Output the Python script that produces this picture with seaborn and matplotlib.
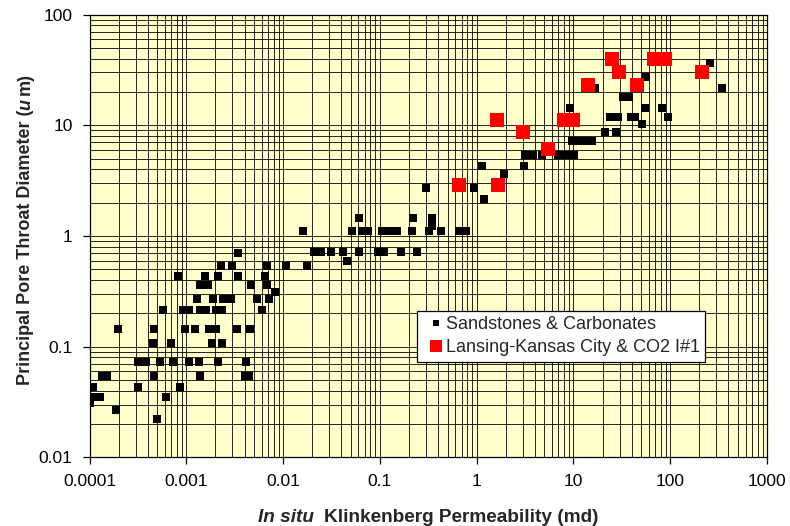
import matplotlib
matplotlib.use("Agg")
import matplotlib.pyplot as plt
import seaborn as sns
import pandas as pd
from matplotlib.ticker import FixedLocator, FixedFormatter, LogLocator, NullFormatter
from matplotlib.lines import Line2D
from matplotlib.transforms import IdentityTransform

# ---------------- data ----------------
series_names = ["Sandstones & Carbonates", "Lansing-Kansas City & CO2 I#1"]
series_colors = ["#000000", "#FF0000"]

# Sandstones & Carbonates: in situ Klinkenberg permeability (md)
sc_perm = [
    5.75e-4, 9.25e-4, 1.07e-3, 1.38e-3, 1.6e-3, 2.02e-3, 2.33e-3, 6.03e-3,
    1.98e-4, 4.65e-4, 9.7e-4, 1.23e-3, 1.71e-3, 2.02e-3, 3.33e-3, 4.54e-3,
    4.54e-4, 6.95e-4, 1.84e-3, 2.33e-3,
    3.18e-4, 3.84e-4, 5.36e-4, 7.29e-4, 1.07e-3, 1.35e-3, 2.12e-3, 4.12e-3,
    1.35e-4, 1.52e-4, 4.65e-4, 1.38e-3, 4.03e-3, 4.43e-3,
    1.0e-4, 1.09e-4, 3.18e-4, 8.61e-4,
    1.12e-4, 1.29e-4, 6.18e-4,
    1.0e-4, 1.88e-4, 4.99e-4,
    3.41e-3,
    2.28e-3, 2.96e-3, 6.79e-3, 1.07e-2, 1.75e-2,
    8.2e-4, 1.56e-3, 2.12e-3, 3.41e-3, 6.47e-3,
    1.38e-3, 1.67e-3, 4.65e-3, 6.79e-3,
    8.2e-3,
    1.29e-3, 1.88e-3, 2.39e-3, 2.89e-3, 5.36e-3, 7.12e-3,
    0.016, 0.0517, 0.0655, 0.0755, 0.105, 0.123, 0.149, 0.215, 0.325, 0.433, 0.652, 0.778,
    0.0207, 0.0249, 0.031, 0.0414, 0.0605, 0.0953, 0.1105, 0.164, 0.242,
    0.0456,
    0.0605, 0.219, 0.345,
    0.345,
    0.303, 0.931,
    1.18,
    1.145, 3.05,
    1.93,
    3.18, 3.78, 4.79, 7.0, 8.35, 10.2,
    9.63, 11.45, 13.6, 15.7,
    9.3, 55.2, 82.7,
    21.1, 27.7,
    50.7,
    23.7, 28.9, 39.0, 43.0, 94.0,
    32.5, 37.9,
    16.6, 341.0,
    55.9,
    256.6,
]
# Sandstones & Carbonates: principal pore throat diameter (um)
sc_diam = (
    [0.215] * 8 + [0.144] * 8 + [0.107] * 4 + [0.072] * 8 + [0.054] * 6
    + [0.043] * 4 + [0.035] * 3 + [0.031, 0.027, 0.022]
    + [0.70] + [0.536] * 5 + [0.435] * 5 + [0.361] * 4 + [0.312] + [0.268] * 6
    + [1.1] * 12 + [0.716] * 9 + [0.60] + [1.44] * 3 + [1.23] + [2.74] * 2 + [2.15]
    + [4.29] * 2 + [3.63] + [5.4] * 6 + [7.2] * 4 + [14.4] * 3 + [8.65] * 2
    + [10.3] + [12.0] * 5 + [18.1] * 2 + [21.6] * 2 + [27.2] + [36.3]
)

# Lansing-Kansas City & CO2 I#1
lkc_perm = [0.652, 1.645, 1.62, 2.98, 5.48, 8.02, 9.9, 14.3, 25.2, 29.6, 45.7, 67.9, 89.2, 213.6]
lkc_diam = [2.9, 2.9, 11.2, 8.7, 6.17, 11.2, 11.2, 23.1, 39.4, 30.1, 23.1, 39.4, 39.4, 30.1]

x_ticks = [1e-4, 1e-3, 1e-2, 0.1, 1, 10, 100, 1000]
x_tick_labels = ["0.0001", "0.001", "0.01", "0.1", "1", "10", "100", "1000"]
y_ticks = [0.01, 0.1, 1, 10, 100]
y_tick_labels = ["0.01", "0.1", "1", "10", "100"]

# ---------------- figure ----------------
sns.set_style("white")
plt.rcParams["font.family"] = ["Liberation Sans", "DejaVu Sans"]

W, H = 790, 526
fig = plt.figure(figsize=(W / 100, H / 100), dpi=100, facecolor="white")
left_px, right_px, top_px, bot_px = 89.5, 767.0, 14.6, 457.4
ax = fig.add_axes([left_px / W, (H - bot_px) / H, (right_px - left_px) / W, (bot_px - top_px) / H])
ax.set_facecolor("#FFFFCC")

df_sc = pd.DataFrame({"perm": sc_perm, "diam": sc_diam})
df_lkc = pd.DataFrame({"perm": lkc_perm, "diam": lkc_diam})

ax.set_xscale("log")
ax.set_yscale("log")
sns.scatterplot(data=df_sc, x="perm", y="diam", marker="s", s=40, color=series_colors[0],
                linewidth=0, ax=ax, zorder=3, legend=False)
sns.scatterplot(data=df_lkc, x="perm", y="diam", marker="s", s=88, color=series_colors[1],
                linewidth=0, ax=ax, zorder=4, legend=False)

ax.set_xlim(x_ticks[0], x_ticks[-1])
ax.set_ylim(y_ticks[0], y_ticks[-1])
ax.xaxis.set_major_locator(FixedLocator(x_ticks))
ax.xaxis.set_major_formatter(FixedFormatter(x_tick_labels))
ax.yaxis.set_major_locator(FixedLocator(y_ticks))
ax.yaxis.set_major_formatter(FixedFormatter(y_tick_labels))
ax.xaxis.set_minor_locator(LogLocator(base=10, subs=range(2, 10), numticks=50))
ax.yaxis.set_minor_locator(LogLocator(base=10, subs=range(2, 10), numticks=50))
ax.xaxis.set_minor_formatter(NullFormatter())
ax.yaxis.set_minor_formatter(NullFormatter())

ax.set_axisbelow(True)
ax.grid(True, which="both", color="black", linewidth=0.6)
for sp in ax.spines.values():
    sp.set_visible(True)
    sp.set_color("black")
    sp.set_linewidth(0.9)

ax.tick_params(which="major", direction="out", length=5, width=0.9, color="black",
               labelsize=12.5, labelcolor="black",
               bottom=True, left=True, top=False, right=False)
ax.tick_params(axis="x", which="major", pad=7)
ax.tick_params(axis="y", which="major", pad=7.2)
ax.tick_params(which="minor", length=0)
ax.set_xlabel("")
ax.set_ylabel("")

handles = [
    Line2D([], [], linestyle="none", marker="s", markersize=5, markerfacecolor=series_colors[0],
           markeredgewidth=0),
    Line2D([], [], linestyle="none", marker="s", markersize=8, markerfacecolor=series_colors[1],
           markeredgewidth=0),
]
leg = ax.legend(handles, series_names, loc="upper left",
                bbox_to_anchor=((417 - left_px) / (right_px - left_px), (bot_px - 310.7) / (bot_px - top_px)),
                borderaxespad=0, frameon=True, fancybox=False, framealpha=1, facecolor="white",
                edgecolor="black", fontsize=13, handlelength=1.45, handletextpad=-0.15,
                borderpad=0.3, labelspacing=0.35)
leg.get_frame().set_linewidth(0.9)
leg.set_zorder(10)

# ---------------- mixed-style axis labels ----------------
fig.canvas.draw()
renderer = fig.canvas.get_renderer()


def place_pieces(parts, gaps, cx, cy, rotation, fs):
    objs = []
    for txt, style in parts:
        t = fig.text(0, 0, txt, fontsize=fs, fontweight="bold", fontstyle=style,
                     transform=IdentityTransform(), rotation=rotation, rotation_mode="anchor",
                     ha="left", va="baseline")
        objs.append(t)
    lens = []
    for t in objs:
        bb = t.get_window_extent(renderer)
        lens.append(bb.width if rotation == 0 else bb.height)
    total = sum(lens) + sum(gaps)
    pos = -total / 2
    for i, t in enumerate(objs):
        if rotation == 0:
            t.set_position((cx + pos, cy))
        else:
            t.set_position((cx, cy + pos))
        pos += lens[i] + (gaps[i] if i < len(gaps) else 0)


# x label (pixel coords from bottom)
place_pieces([("In situ", "italic"), ("Klinkenberg Permeability (md)", "normal")], [9],
             (left_px + right_px) / 2, H - 522, 0, 13.7)
# y label
place_pieces([("Principal Pore Throat Diameter (", "normal"), ("u", "italic"), ("m)", "normal")],
             [0, 4], 30, H - 229, 90, 13)

fig.savefig("out.png", dpi=100, facecolor="white")
